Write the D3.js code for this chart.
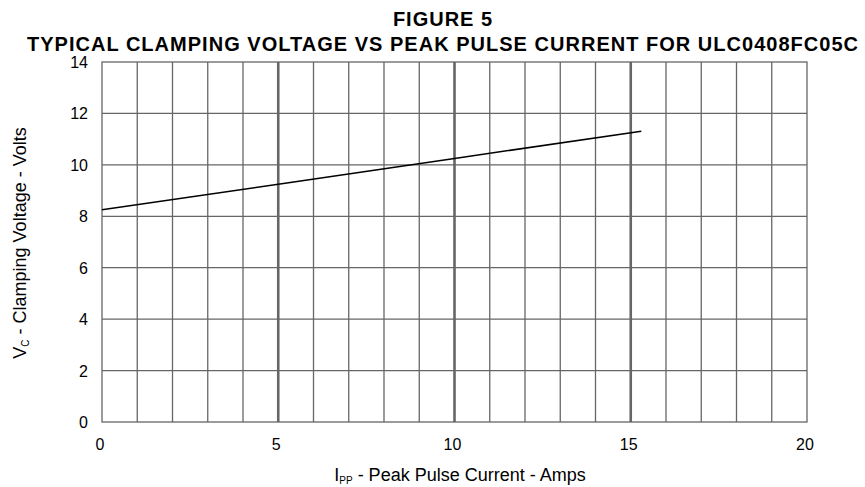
<!DOCTYPE html>
<html>
<head>
<meta charset="utf-8">
<title>Figure 5</title>
<script src="https://cdn.jsdelivr.net/npm/d3@7/dist/d3.min.js"></script>
<style>
  body { margin: 0; background: #fff; }
  text { font-family: "Liberation Sans", Arial, Helvetica, sans-serif; fill: #000; }
  .title { font-weight: bold; font-size: 20px; }
  .tick-label { font-size: 16px; }
  .axis-label { font-size: 18px; }
</style>
</head>
<body>
<div id="chart"></div>
<script>
  // data
  var currentAmps = [0, 5, 10, 15.3];
  var clampVolts = [8.25, 9.25, 10.25, 11.31];
  var xTicks = [0, 5, 10, 15, 20];
  var yTicks = [0, 2, 4, 6, 8, 10, 12, 14];

  var width = 865, height = 487;
  var margin = { top: 62, right: 58, bottom: 65, left: 102 };

  var svg = d3.select('#chart').append('svg')
    .attr('width', width)
    .attr('height', height);

  var x = d3.scaleLinear().domain([0, 20]).range([margin.left, width - margin.right]);
  var y = d3.scaleLinear().domain([0, 14]).range([height - margin.bottom, margin.top]);

  // vertical grid, one per amp, heavier at 5/10/15
  var vLines = d3.range(1, 20);
  svg.append('g').selectAll('line')
    .data(vLines)
    .enter().append('line')
    .attr('x1', function(d) { return x(d); })
    .attr('x2', function(d) { return x(d); })
    .attr('y1', y(0))
    .attr('y2', y(14))
    .attr('stroke', '#666')
    .attr('stroke-width', function(d) { return d % 5 === 0 ? 2.6 : 1.3; });

  // horizontal grid
  svg.append('g').selectAll('line')
    .data(yTicks.slice(1, -1))
    .enter().append('line')
    .attr('x1', x(0))
    .attr('x2', x(20))
    .attr('y1', function(d) { return y(d); })
    .attr('y2', function(d) { return y(d); })
    .attr('stroke', '#666')
    .attr('stroke-width', 1.3);

  // frame
  svg.append('rect')
    .attr('x', x(0))
    .attr('y', y(14))
    .attr('width', x(20) - x(0))
    .attr('height', y(0) - y(14))
    .attr('fill', 'none')
    .attr('stroke', '#666')
    .attr('stroke-width', 1.3);

  // curve
  var line = d3.line()
    .x(function(d, i) { return x(d); })
    .y(function(d, i) { return y(clampVolts[i]); });

  svg.append('path')
    .datum(currentAmps)
    .attr('d', line)
    .attr('fill', 'none')
    .attr('stroke', '#000')
    .attr('stroke-width', 1.5);

  // tick labels
  svg.append('g').selectAll('text')
    .data(xTicks)
    .enter().append('text')
    .attr('class', 'tick-label')
    .attr('x', function(d) { return x(d) - 2; })
    .attr('y', y(0) + 28)
    .attr('text-anchor', 'middle')
    .text(function(d) { return d; });

  svg.append('g').selectAll('text')
    .data(yTicks)
    .enter().append('text')
    .attr('class', 'tick-label')
    .attr('x', x(0) - 14)
    .attr('y', function(d) { return y(d) + 6; })
    .attr('text-anchor', 'end')
    .text(function(d) { return d; });

  // titles
  svg.append('text')
    .attr('class', 'title')
    .attr('x', 443)
    .attr('y', 26)
    .attr('text-anchor', 'middle')
    .attr('letter-spacing', 1)
    .text('FIGURE 5');

  svg.append('text')
    .attr('class', 'title')
    .attr('x', 27)
    .attr('y', 51)
    .attr('textLength', 831)
    .attr('lengthAdjust', 'spacing')
    .text('TYPICAL CLAMPING VOLTAGE VS PEAK PULSE CURRENT FOR ULC0408FC05C');

  // axis labels
  var xl = svg.append('text')
    .attr('class', 'axis-label')
    .attr('x', 460)
    .attr('y', 481)
    .attr('text-anchor', 'middle');
  xl.append('tspan').text('I');
  xl.append('tspan').attr('font-size', '10px').attr('dy', 3).text('PP');
  xl.append('tspan').attr('dy', -3).text(' - Peak Pulse Current - Amps');

  var yl = svg.append('text')
    .attr('class', 'axis-label')
    .attr('transform', 'translate(26,243) rotate(-90)')
    .attr('text-anchor', 'middle');
  yl.append('tspan').text('V');
  yl.append('tspan').attr('font-size', '10px').attr('dy', 3).text('C');
  yl.append('tspan').attr('dy', -3).text(' - Clamping Voltage - Volts');
</script>
</body>
</html>
